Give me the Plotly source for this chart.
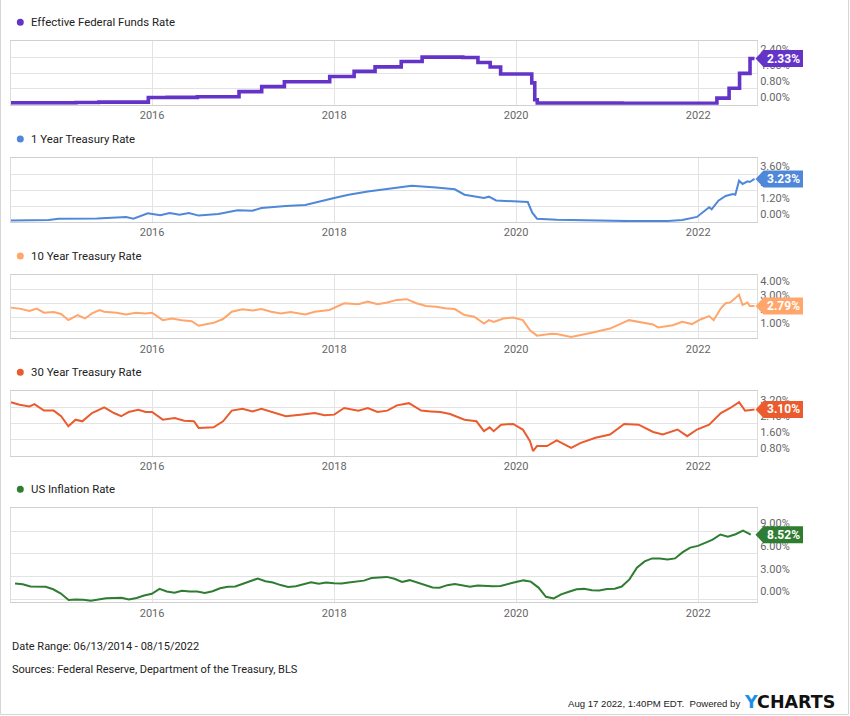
import calendar
import plotly.graph_objects as go

W, H = 850, 716

# ---------------- data ----------------
ff_dates = ["2014-06-13", "2014-09-15", "2015-03-01", "2015-06-01", "2015-12-17", "2016-03-01",
            "2016-07-01", "2016-12-15", "2017-03-16", "2017-06-15", "2017-12-14", "2018-03-22",
            "2018-06-14", "2018-09-27", "2018-12-20", "2019-06-01", "2019-08-01", "2019-09-19",
            "2019-10-31", "2020-03-04", "2020-03-16", "2020-03-26", "2020-06-01", "2021-03-01",
            "2022-03-17", "2022-05-05", "2022-06-16", "2022-07-28", "2022-08-15"]
ff_vals = [0.09, 0.09, 0.11, 0.13, 0.36, 0.37, 0.40, 0.66, 0.91, 1.16, 1.42, 1.68,
           1.91, 2.18, 2.40, 2.38, 2.13, 1.90, 1.55, 1.10, 0.25, 0.08, 0.08, 0.07,
           0.33, 0.83, 1.58, 2.33, 2.33]

y1_dates = ["2014-06-13", "2014-11-13", "2014-12-21", "2015-05-25", "2015-09-19", "2015-10-18",
            "2015-12-15", "2016-02-03", "2016-03-12", "2016-04-20", "2016-05-28", "2016-07-06",
            "2016-09-23", "2016-12-09", "2017-02-07", "2017-03-15", "2017-06-21", "2017-09-07",
            "2018-01-01", "2018-02-28", "2018-05-16", "2018-08-02", "2018-11-08", "2019-02-14",
            "2019-04-30", "2019-06-08", "2019-08-25", "2019-09-14", "2019-10-13", "2019-12-20",
            "2020-02-17", "2020-03-06", "2020-03-25", "2020-06-12", "2020-09-17", "2021-03-29",
            "2021-09-01", "2021-10-29", "2021-12-27", "2022-02-14", "2022-02-24", "2022-03-23",
            "2022-04-21", "2022-05-20", "2022-05-30", "2022-06-14", "2022-06-28", "2022-07-18",
            "2022-07-27", "2022-08-15"]
y1_vals = [0.12, 0.15, 0.25, 0.26, 0.38, 0.25, 0.65, 0.50, 0.68, 0.55, 0.68, 0.48,
           0.60, 0.88, 0.85, 1.05, 1.20, 1.28, 1.80, 2.05, 2.28, 2.45, 2.72, 2.58,
           2.45, 2.05, 1.80, 1.90, 1.62, 1.55, 1.50, 0.70, 0.25, 0.17, 0.13, 0.07,
           0.08, 0.15, 0.38, 1.10, 0.95, 1.60, 1.95, 2.10, 2.05, 3.10, 2.85, 3.05,
           3.00, 3.23]

y10_dates = ["2014-06-13", "2014-07-18", "2014-08-27", "2014-09-25", "2014-10-24", "2014-12-02",
             "2015-01-01", "2015-01-30", "2015-03-08", "2015-04-07", "2015-05-05", "2015-06-04",
             "2015-06-23", "2015-08-11", "2015-09-19", "2015-10-28", "2015-12-06", "2016-01-01",
             "2016-02-13", "2016-03-21", "2016-04-29", "2016-06-08", "2016-07-06", "2016-09-04",
             "2016-10-12", "2016-11-16", "2016-12-29", "2017-02-07", "2017-03-15", "2017-04-23",
             "2017-06-01", "2017-07-10", "2017-09-07", "2017-10-15", "2017-12-13", "2018-02-10",
             "2018-04-08", "2018-05-16", "2018-06-24", "2018-08-02", "2018-09-10", "2018-10-19",
             "2018-11-27", "2019-01-05", "2019-02-14", "2019-03-22", "2019-04-30", "2019-06-08",
             "2019-07-17", "2019-08-25", "2019-09-14", "2019-10-03", "2019-11-11", "2019-12-20",
             "2020-01-28", "2020-02-26", "2020-03-25", "2020-05-23", "2020-06-12", "2020-07-20",
             "2020-08-09", "2020-10-26", "2021-01-12", "2021-03-29", "2021-05-07", "2021-07-04",
             "2021-07-24", "2021-09-21", "2021-10-29", "2021-12-07", "2022-01-10", "2022-02-14",
             "2022-03-04", "2022-04-02", "2022-04-21", "2022-05-10", "2022-06-14", "2022-06-28",
             "2022-07-18", "2022-07-27", "2022-08-15"]
y10_vals = [2.68, 2.61, 2.44, 2.61, 2.32, 2.37, 2.23, 1.79, 2.15, 1.91, 2.27, 2.51,
            2.39, 2.32, 2.20, 2.32, 2.27, 2.32, 1.79, 1.91, 1.79, 1.72, 1.39, 1.60,
            1.87, 2.39, 2.56, 2.47, 2.58, 2.39, 2.27, 2.37, 2.20, 2.39, 2.51, 2.99,
            2.92, 3.11, 2.92, 3.04, 3.23, 3.28, 2.99, 2.80, 2.75, 2.63, 2.58, 2.15,
            2.03, 1.55, 1.79, 1.67, 1.91, 1.98, 1.79, 1.07, 0.69, 0.83, 0.80, 0.64,
            0.59, 0.88, 1.19, 1.79, 1.67, 1.48, 1.27, 1.43, 1.67, 1.51, 1.84, 2.08,
            1.79, 2.63, 2.99, 3.05, 3.59, 2.87, 3.04, 2.80, 2.79]

y30_dates = ["2014-06-13", "2014-07-18", "2014-08-27", "2014-09-16", "2014-10-24", "2014-12-02",
             "2015-01-01", "2015-01-30", "2015-02-28", "2015-03-27", "2015-05-05", "2015-06-23",
             "2015-08-01", "2015-08-30", "2015-09-29", "2015-11-07", "2015-12-06", "2016-01-01",
             "2016-02-13", "2016-04-01", "2016-05-09", "2016-06-17", "2016-07-06", "2016-09-04",
             "2016-10-12", "2016-11-16", "2016-12-29", "2017-02-07", "2017-03-15", "2017-04-23",
             "2017-06-21", "2017-08-18", "2017-10-15", "2017-11-23", "2018-01-01", "2018-02-10",
             "2018-04-08", "2018-05-16", "2018-06-24", "2018-08-02", "2018-09-10", "2018-10-28",
             "2018-12-16", "2019-01-24", "2019-03-03", "2019-04-11", "2019-06-08", "2019-07-26",
             "2019-08-25", "2019-09-17", "2019-10-03", "2019-11-02", "2019-12-20", "2020-01-28",
             "2020-02-26", "2020-03-09", "2020-03-25", "2020-05-04", "2020-06-12", "2020-08-09",
             "2020-09-17", "2020-11-15", "2021-01-12", "2021-03-10", "2021-05-07", "2021-07-04",
             "2021-08-12", "2021-10-10", "2021-11-18", "2021-12-27", "2022-02-14", "2022-04-02",
             "2022-05-10", "2022-06-14", "2022-07-08", "2022-08-15"]
y30_vals = [3.46, 3.33, 3.25, 3.36, 3.04, 3.04, 2.76, 2.26, 2.59, 2.51, 2.92, 3.20,
            2.92, 2.76, 2.97, 3.08, 2.97, 2.97, 2.59, 2.67, 2.54, 2.51, 2.18, 2.21,
            2.51, 3.04, 3.13, 3.00, 3.13, 2.97, 2.76, 2.84, 2.92, 2.81, 2.84, 3.17,
            3.04, 3.17, 2.97, 3.04, 3.30, 3.41, 3.04, 3.00, 2.97, 2.87, 2.59, 2.51,
            2.02, 2.21, 2.02, 2.34, 2.38, 2.10, 1.52, 1.03, 1.28, 1.28, 1.56, 1.19,
            1.44, 1.69, 1.85, 2.38, 2.34, 1.98, 1.85, 2.10, 1.77, 2.10, 2.34, 2.92,
            3.17, 3.46, 3.04, 3.10]

infl_start = (2014, 6)
infl_vals = [2.07, 1.99, 1.70, 1.66, 1.66, 1.32, 0.76,
             -0.09, -0.03, -0.07, -0.20, -0.04, 0.12, 0.17, 0.20, -0.04, 0.17, 0.50, 0.73,
             1.37, 1.02, 0.85, 1.13, 1.02, 1.01, 0.84, 1.06, 1.46, 1.64, 1.69, 2.07,
             2.50, 2.74, 2.38, 2.20, 1.87, 1.63, 1.73, 1.94, 2.23, 2.04, 2.20, 2.11,
             2.07, 2.21, 2.36, 2.46, 2.80, 2.87, 2.95, 2.70, 2.28, 2.52, 2.18, 1.91,
             1.55, 1.52, 1.86, 2.00, 1.79, 1.65, 1.81, 1.75, 1.71, 1.76, 2.05, 2.29,
             2.49, 2.33, 1.54, 0.33, 0.12, 0.65, 0.99, 1.31, 1.37, 1.18, 1.17, 1.36,
             1.40, 1.68, 2.62, 4.16, 4.99, 5.39, 5.37, 5.25, 5.39, 6.22, 6.81, 7.04,
             7.48, 7.87, 8.54, 8.26, 8.58, 9.06, 8.52]

series_names = ["Effective Federal Funds Rate", "1 Year Treasury Rate", "10 Year Treasury Rate",
                "30 Year Treasury Rate", "US Inflation Rate"]
last_labels = ["2.33%", "3.23%", "2.79%", "3.10%", "8.52%"]
ytick_ff = [0.0, 0.8, 1.6, 2.4]
ytick_1y = [0.0, 1.2, 2.4, 3.6]
ytick_10y = [1.0, 2.0, 3.0, 4.0]
ytick_30y = [0.8, 1.6, 2.4, 3.2]
ytick_infl = [0.0, 3.0, 6.0, 9.0]
xtick_years = ["2016", "2018", "2020", "2022"]

# month-end dates for the monthly inflation series
infl_dates = []
yy, mm = infl_start
for _ in infl_vals:
    infl_dates.append(f"{yy}-{mm:02d}-{calendar.monthrange(yy, mm)[1]:02d}")
    mm += 1
    if mm > 12:
        mm, yy = 1, yy + 1

# ---------------- styling / layout ----------------
FONT = "Roboto"
colors = ["#6434c9", "#4f87d9", "#ffa66c", "#ea5c2d", "#2e7d32"]
widths = [3.6, 2, 2, 2, 2]
shapes_ = ["hv", "linear", "linear", "linear", "linear"]
panels_px = [(41.3, 104.7), (158.0, 222.0), (275.0, 338.3), (391.3, 455.7), (508.3, 602.3)]
yranges = [[0, 3.2], [0, 4.8], [0.5, 5.0], [0.8, 4.0], [-0.4, 12.0]]
yticks = [ytick_ff, ytick_1y, ytick_10y, ytick_30y, ytick_infl]
data = [(ff_dates, ff_vals), (y1_dates, y1_vals), (y10_dates, y10_vals),
        (y30_dates, y30_vals), (infl_dates, infl_vals)]

XL, XR = 10.8, 757.0
xrange_ = ["2014-06-13", "2022-08-25"]


def px(x):
    return x / W


def py(y):
    return 1 - y / H


fig = go.Figure()
layout = dict(width=W, height=H, margin=dict(l=0, r=0, t=0, b=0),
              paper_bgcolor="white", plot_bgcolor="white", showlegend=False,
              font=dict(family=FONT, color="#333"))
shapes = []
annotations = []

for i in range(5):
    n = "" if i == 0 else str(i + 1)
    top, bot = panels_px[i]
    d, v = data[i]
    fig.add_trace(go.Scatter(x=d, y=v, mode="lines", xaxis="x" + n, yaxis="y" + n,
                             line=dict(color=colors[i], width=widths[i], shape=shapes_[i]),
                             hoverinfo="skip"))
    layout["xaxis" + n] = dict(
        type="date", domain=[px(XL), px(XR)], anchor="y" + n, range=xrange_,
        tickvals=[f"{t}-01-01" for t in xtick_years], ticktext=xtick_years,
        showgrid=True, gridcolor="#e3e3e3", gridwidth=1, zeroline=False,
        showline=True, linecolor="#d0d0d0", linewidth=1, mirror=True, ticks="",
        tickfont=dict(family=FONT, size=11, color="#666"), fixedrange=True)
    layout["yaxis" + n] = dict(
        domain=[py(bot), py(top)], anchor="x" + n, side="right", range=yranges[i],
        tickvals=yticks[i], ticktext=[f"{t:.2f}%" for t in yticks[i]],
        ticklabelposition="outside top", showgrid=True, gridcolor="#e3e3e3",
        zeroline=False, showline=True, linecolor="#dcdcdc", mirror=True, ticks="",
        tickfont=dict(family=FONT, size=11, color="#666"), fixedrange=True)

    # legend-like title
    ty = top - 19.0
    shapes.append(dict(type="circle", xref="paper", yref="paper",
                       x0=px(16.8), x1=px(23.8), y0=py(ty + 3.5), y1=py(ty - 3.5),
                       fillcolor=colors[i], line=dict(width=0)))
    annotations.append(dict(xref="paper", yref="paper", x=px(28.5), y=py(ty),
                            xanchor="left", yanchor="middle", showarrow=False,
                            text=series_names[i], font=dict(family=FONT, size=11.4, color="#222")))

    # last-value flag
    r0, r1 = yranges[i]
    yc = bot - (v[-1] - r0) / (r1 - r0) * (bot - top)
    hh = 8.5
    path = (f"M {px(755.5)} {py(yc)} L {px(763.5)} {py(yc - hh)} L {px(803)} {py(yc - hh)} "
            f"L {px(803)} {py(yc + hh)} L {px(763.5)} {py(yc + hh)} Z")
    shapes.append(dict(type="path", xref="paper", yref="paper", path=path,
                       fillcolor=colors[i], line=dict(width=0), layer="above"))
    annotations.append(dict(xref="paper", yref="paper", x=px(783.5), y=py(yc),
                            xanchor="center", yanchor="middle", showarrow=False,
                            text=f"<b>{last_labels[i]}</b>",
                            font=dict(family=FONT, size=12, color="white")))

# footer
annotations.append(dict(xref="paper", yref="paper", x=px(9.5), y=py(646), xanchor="left",
                        yanchor="middle", showarrow=False,
                        text="Date Range: 06/13/2014 - 08/15/2022",
                        font=dict(family=FONT, size=11, color="#222")))
annotations.append(dict(xref="paper", yref="paper", x=px(9.5), y=py(669), xanchor="left",
                        yanchor="middle", showarrow=False,
                        text="Sources: Federal Reserve, Department of the Treasury, BLS",
                        font=dict(family=FONT, size=11, color="#222")))
annotations.append(dict(xref="paper", yref="paper", x=px(742), y=py(703), xanchor="right",
                        yanchor="middle", showarrow=False,
                        text="Aug 17 2022, 1:40PM EDT.  Powered by",
                        font=dict(family="Liberation Sans", size=9.6, color="#222")))
annotations.append(dict(xref="paper", yref="paper", x=px(742), y=py(701.5), xanchor="left",
                        yanchor="middle", showarrow=False,
                        text="<b><span style='color:#1a8fe6'>Y</span>CHARTS</b>",
                        font=dict(family="DejaVu Sans", size=17.5, color="#111")))

# outer frame (left, right, bottom)
for (x0, y0, x1, y1) in [(0.5, 0, 0.5, 714.5), (848.5, 0, 848.5, 714.5), (0.5, 714.5, 848.5, 714.5)]:
    shapes.append(dict(type="line", xref="paper", yref="paper", x0=px(x0), y0=py(y0),
                       x1=px(x1), y1=py(y1), line=dict(color="#d6d6d6", width=1)))

layout["shapes"] = shapes
layout["annotations"] = annotations
fig.update_layout(**layout)
fig.write_html("out.html", config={"displayModeBar": False},
               post_script="document.body.style.margin='0px';")
